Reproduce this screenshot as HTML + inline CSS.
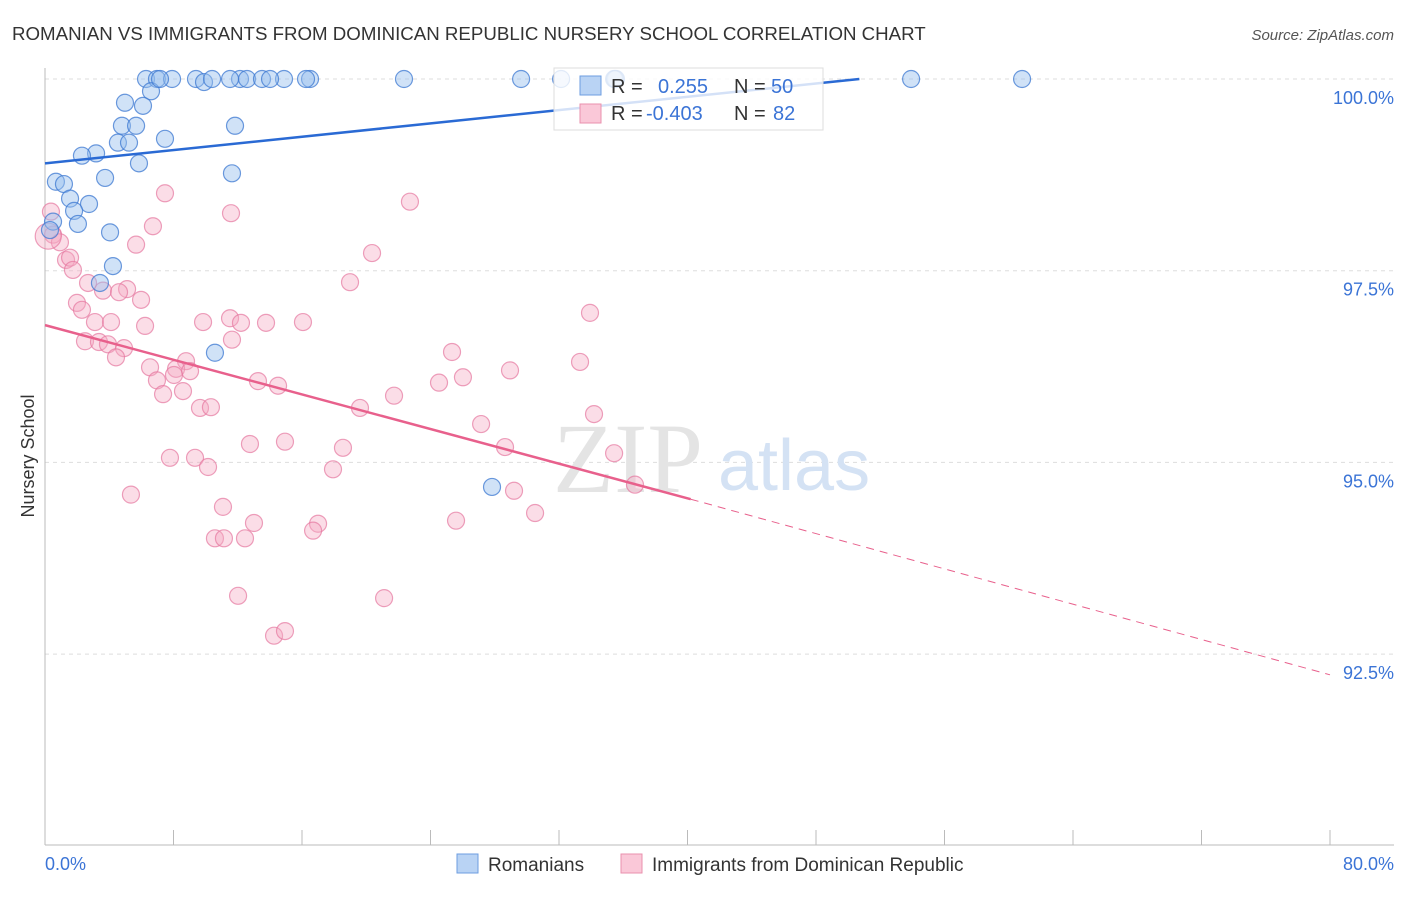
<!DOCTYPE html>
<html><head><meta charset="utf-8"><style>
body{margin:0;background:#fff;font-family:"Liberation Sans",sans-serif}
svg text{font-family:"Liberation Sans",sans-serif}
</style></head><body>
<svg id="chart" width="1406" height="892" xmlns="http://www.w3.org/2000/svg">
<text x="12" y="40" font-size="18.7" fill="#333">ROMANIAN VS IMMIGRANTS FROM DOMINICAN REPUBLIC NURSERY SCHOOL CORRELATION CHART</text>
<text x="1394" y="40" font-size="15" fill="#555" font-style="italic" text-anchor="end">Source: ZipAtlas.com</text>
<text x="34" y="456" font-size="18" fill="#333" transform="rotate(-90 34 456)" text-anchor="middle">Nursery School</text>
<g id="grid"></g>
<g id="axes"></g>
<text x="553" y="492" font-size="100" fill="#e4e4e4" font-family="Liberation Serif" style="font-family:'Liberation Serif',serif">ZIP</text>
<text x="718" y="490" font-size="72" fill="#d4e2f4">atlas</text>
<g id="pink"></g>
<g id="blue"></g>
<g id="trends"></g>
<g>
<rect x="554" y="68" width="269" height="62" fill="#fff" fill-opacity="0.8" stroke="#ddd"/>
<rect x="580" y="76" width="21" height="19" fill="#b9d3f4" stroke="#6d9ee0"/>
<rect x="580" y="104" width="21" height="19" fill="#fac8d8" stroke="#e990ae"/>
<text x="611" y="93" font-size="20" fill="#333">R =</text>
<text x="658" y="93" font-size="20" fill="#3b74d6">0.255</text>
<text x="734" y="93" font-size="20" fill="#333">N =</text>
<text x="771" y="93" font-size="20" fill="#3b74d6">50</text>
<text x="611" y="120" font-size="20" fill="#333">R =</text>
<text x="646" y="120" font-size="20" fill="#3b74d6">-0.403</text>
<text x="734" y="120" font-size="20" fill="#333">N =</text>
<text x="773" y="120" font-size="20" fill="#3b74d6">82</text>
</g>
<g>
<rect x="457" y="854" width="21" height="19" fill="#b9d3f4" stroke="#6d9ee0"/>
<text x="488" y="871" font-size="19" fill="#333">Romanians</text>
<rect x="621" y="854" width="21" height="19" fill="#fac8d8" stroke="#e990ae"/>
<text x="652" y="871" font-size="19" fill="#333">Immigrants from Dominican Republic</text>
</g>
</svg>
<script>
const yTicks=[100,97.5,95,92.5];
const yTickLabels=["100.0%","97.5%","95.0%","92.5%"];
const xTickLabels=["0.0%","80.0%"];
const blueX=[6.29,6.97,7.91,9.40,9.90,10.40,12.14,12.58,13.51,14.88,16.50,22.35,29.64,32.13,35.55,53.92,60.83,6.60,4.98,6.10,4.79,5.67,11.83,4.54,5.23,7.47,3.18,2.30,5.85,11.64,0.68,1.18,3.74,1.56,2.74,1.81,2.05,4.05,4.23,3.42,10.58,27.83,0.50,0.31,7.16,14.01,35.43,11.52,16.25,35.49];
const blueY=[100,100,100,100,99.96,100,100,100,100,100,100,100,100,100,100,100,100,99.84,99.69,99.65,99.39,99.39,99.39,99.17,99.17,99.22,99.03,99.00,98.90,98.77,98.66,98.63,98.71,98.44,98.37,98.28,98.11,98.00,97.56,97.34,96.43,94.68,98.14,98.03,100,100,100,100,100,100];
const pinkX=[7.47,11.58,6.72,22.72,5.67,20.36,0.37,0.50,0.93,1.31,1.56,1.74,2.68,1.99,2.30,3.61,5.11,4.61,5.98,3.11,4.11,6.23,9.84,11.52,12.20,13.76,16.06,33.93,18.99,2.49,3.36,3.92,4.92,4.42,8.78,8.16,9.03,6.54,6.97,8.03,7.35,8.59,9.65,10.33,13.26,14.51,19.61,21.73,24.53,26.02,25.34,28.95,33.31,34.18,27.15,28.64,12.76,14.94,18.55,9.34,7.78,10.15,17.93,5.35,11.08,13.01,10.58,11.14,12.45,17.00,16.69,25.59,30.51,29.20,36.73,35.43,12.02,21.11,14.26,14.94,11.64,0.2];
const pinkY=[98.51,98.25,98.08,98.40,97.84,97.73,98.27,97.97,97.87,97.64,97.67,97.51,97.34,97.08,96.99,97.24,97.26,97.22,97.12,96.83,96.83,96.78,96.83,96.88,96.82,96.82,96.83,96.95,97.35,96.58,96.57,96.54,96.49,96.37,96.32,96.22,96.19,96.24,96.07,96.14,95.89,95.93,95.71,95.72,96.06,96.00,95.71,95.87,96.04,96.11,96.44,96.20,96.31,95.63,95.50,95.20,95.24,95.27,95.19,95.06,95.06,94.94,94.91,94.58,94.42,94.21,94.01,94.01,94.01,94.20,94.11,94.24,94.34,94.63,94.71,95.12,93.26,93.23,92.74,92.80,96.60,97.95];
const blueTrend=[[0,98.90],[50.7,100]];
const pinkTrendSolid=[[0,96.79],[40.2,94.52]];
const pinkTrendDash=[[40.2,94.52],[80,92.23]];
const NS='http://www.w3.org/2000/svg';
const X=v=>45+v/80*1285;
const Y=v=>79+(100-v)/2.5*191.7;
function mk(tag,attrs,parent){const e=document.createElementNS(NS,tag);for(const k in attrs)e.setAttribute(k,attrs[k]);parent.appendChild(e);return e;}
const grid=document.getElementById('grid'),axes=document.getElementById('axes');
yTicks.forEach((t,i)=>{
 const l=mk('line',{x1:45,x2:1394,y1:Y(t),y2:Y(t),stroke:'#ddd','stroke-dasharray':'4,4'},grid);
 
 
 const tx=mk('text',{x:1394,y:Y(t)+25,'font-size':18,fill:'#3b74d6','text-anchor':'end'},axes);
 tx.textContent=yTickLabels[i];
 
 
});
const ax=mk('line',{x1:45,x2:1394,y1:845,y2:845,stroke:'#bbb'},axes);


const ay=mk('line',{x1:45,x2:45,y1:68,y2:845,stroke:'#bbb'},axes);


for(let i=0;i<=10;i++){const v=i*8;const t=mk('line',{x1:X(v),x2:X(v),y1:830,y2:845,stroke:'#bbb'},axes);
 
 }
const xl0=mk('text',{x:45,y:870,'font-size':18,fill:'#3b74d6'},axes);xl0.textContent=xTickLabels[0];


const xl1=mk('text',{x:1394,y:870,'font-size':18,fill:'#3b74d6','text-anchor':'end'},axes);xl1.textContent=xTickLabels[1];


const pg=document.getElementById('pink'),bg=document.getElementById('blue');
pinkX.forEach((x,i)=>{const c=mk('circle',{cx:X(x),cy:Y(pinkY[i]),r:i==pinkX.length-1?13:8.5,fill:'rgba(246,170,196,0.4)',stroke:'rgba(230,120,160,0.7)','stroke-width':1.2},pg);
 
 });
blueX.forEach((x,i)=>{const c=mk('circle',{cx:X(x),cy:Y(blueY[i]),r:8.5,fill:'rgba(150,190,238,0.45)',stroke:'rgba(60,120,210,0.75)','stroke-width':1.2},bg);
 
 });
const tg=document.getElementById('trends');
const bt=mk('line',{x1:X(blueTrend[0][0]),y1:Y(blueTrend[0][1]),x2:X(blueTrend[1][0]),y2:Y(blueTrend[1][1]),stroke:'#2a6ad4','stroke-width':2.5},tg);


const pt=mk('line',{x1:X(pinkTrendSolid[0][0]),y1:Y(pinkTrendSolid[0][1]),x2:X(pinkTrendSolid[1][0]),y2:Y(pinkTrendSolid[1][1]),stroke:'#e8608c','stroke-width':2.5},tg);


const pd=mk('line',{x1:X(pinkTrendDash[0][0]),y1:Y(pinkTrendDash[0][1]),x2:X(pinkTrendDash[1][0]),y2:Y(pinkTrendDash[1][1]),stroke:'#e8608c','stroke-width':1,'stroke-dasharray':'8,6'},tg);


</script>
</body></html>
